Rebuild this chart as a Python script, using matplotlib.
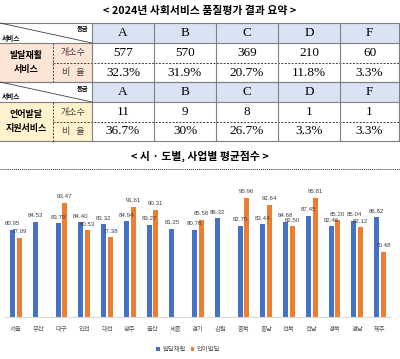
import matplotlib
matplotlib.use('Agg')
import matplotlib.pyplot as plt
from matplotlib.patches import Rectangle
import numpy as np

plt.rcParams['font.family'] = ['Noto Sans CJK KR', 'DejaVu Sans']

# table data
grades = ['A', 'B', 'C', 'D', 'F']
dev_counts = [577, 570, 369, 210, 60]
dev_ratios = ['32.3%', '31.9%', '20.7%', '11.8%', '3.3%']
lang_counts = [11, 9, 8, 1, 1]
lang_ratios = ['36.7%', '30%', '26.7%', '3.3%', '3.3%']

# chart data
regions = ['서울', '부산', '대구', '인천', '대전', '광주', '울산', '세종', '경기',
           '강원', '충북', '충남', '전북', '전남', '경북', '경남', '제주']
dev_scores = [80.95, 84.53, 83.79, 84.40, 83.32, 84.94, 83.27, 81.25, 80.76,
              86.32, 82.75, 83.44, 84.68, 87.45, 82.46, 85.04, 86.82]
lang_scores = [77.09, np.nan, 93.47, 80.53, 77.38, 91.61, 90.31, np.nan, 85.58,
               np.nan, 95.96, 92.64, 82.50, 95.81, 85.20, 82.12, 70.48]

W, H = 400, 359
fig = plt.figure(figsize=(W / 100, H / 100), dpi=100)
bg = fig.add_axes([0, 0, 1, 1])
bg.set_xlim(0, W)
bg.set_ylim(H, 0)
bg.axis('off')

line_c = '#808080'
serif = 'Liberation Serif'


def draw_table(top, label, label_bg, counts, ratios):
    rows = [top, top + 20, top + 40, top + 59]
    cols = [92, 154, 216, 278, 340, 399]
    # backgrounds
    bg.add_patch(Rectangle((92, rows[0]), 307, rows[1] - rows[0], color='#dae3f3', lw=0))
    bg.add_patch(Rectangle((0, rows[1]), 92, rows[3] - rows[1], color=label_bg, lw=0))
    # horizontal lines
    bg.plot([0, 400], [rows[0]] * 2, color=line_c, lw=0.8)
    bg.plot([0, 400], [rows[1]] * 2, color=line_c, lw=0.8)
    bg.plot([53, 400], [rows[2]] * 2, color='#404040', lw=0.7, ls=(0, (2, 1.5)))
    bg.plot([0, 400], [rows[3]] * 2, color=line_c, lw=0.8)
    # vertical lines
    for c in cols:
        bg.plot([c, c], [rows[0], rows[3]], color=line_c, lw=0.8)
    bg.plot([53, 53], [rows[1], rows[3]], color='#404040', lw=0.7, ls=(0, (2, 1.5)))
    # diagonal header cell
    bg.plot([0, 92], [rows[0], rows[1]], color='#404040', lw=0.6)
    bg.text(88, rows[0] + 6, '등급', fontsize=4.5, fontweight='bold', ha='right', va='center')
    bg.text(2, rows[1] - 5, '서비스', fontsize=4.8, fontweight='bold', ha='left', va='center')
    # row labels
    bg.text(26, (rows[1] + rows[3]) / 2, label, fontsize=6.5, fontweight='bold',
            ha='center', va='center', linespacing=1.6)
    bg.text(73, (rows[1] + rows[2]) / 2, '개소수', fontsize=6.5, color='#404040',
            ha='center', va='center')
    bg.text(73, (rows[2] + rows[3]) / 2, '비   율', fontsize=6.5, color='#404040',
            ha='center', va='center')
    for i, g in enumerate(grades):
        cx = (cols[i] + cols[i + 1]) / 2
        bg.text(cx, (rows[0] + rows[1]) / 2, g, fontsize=9.5, family=serif, ha='center', va='center')
        bg.text(cx, (rows[1] + rows[2]) / 2, str(counts[i]), fontsize=9.5, family=serif,
                ha='center', va='center')
        bg.text(cx, (rows[2] + rows[3]) / 2, ratios[i], fontsize=9.5, family=serif,
                ha='center', va='center')


bg.text(200, 11, '< 2024년 사회서비스 품질평가 결과 요약 >', fontsize=7.8, fontweight='bold',
        ha='center', va='center')
draw_table(23, '발달재활\n서비스', '#fce4d6', dev_counts, dev_ratios)
draw_table(82, '언어발달\n지원서비스', '#fff2cc', lang_counts, lang_ratios)
bg.text(200, 156, '< 시 · 도별, 사업별 평균점수 >', fontsize=7.8, fontweight='bold',
        ha='center', va='center')
bg.plot([0, 400], [169, 169], color='#303030', lw=0.7, ls=(0, (1, 1)))

# bar chart
ax = fig.add_axes([4.6 / W, 1 - 317 / H, 386.8 / W, 142 / H])
x = np.arange(len(regions))
bw = 0.22
ax.bar(x - 0.145, dev_scores, bw, color='#4472C4', label='발달재활')
ax.bar(x + 0.145, lang_scores, bw, color='#ED7D31', label='언어발달')
ax.set_xlim(-0.5, len(regions) - 0.5)
ax.set_ylim(40, 106.5)
for xi, v in zip(x, dev_scores):
    ax.annotate(f'{v:.2f}', (xi - 0.145, v), xytext=(0, 2.5), textcoords='offset points',
                ha='center', va='bottom', fontsize=4.4, color='#404040', family='Liberation Sans')
for xi, v in zip(x, lang_scores):
    if np.isnan(v):
        continue
    ax.annotate(f'{v:.2f}', (xi + 0.145, v), xytext=(0, 2.5), textcoords='offset points',
                ha='center', va='bottom', fontsize=4.4, color='#404040', family='Liberation Sans')
for s in ['top', 'left', 'right']:
    ax.spines[s].set_visible(False)
ax.spines['bottom'].set_color('#d9d9d9')
ax.spines['bottom'].set_linewidth(0.8)
ax.set_yticks([])
ax.set_xticks(x)
ax.set_xticklabels(regions, fontsize=4.6, color='#595959')
ax.tick_params(axis='x', length=0, pad=6)
ax.patch.set_alpha(0)
ax.legend(loc='center', bbox_to_anchor=(188 / W, 1 - 349 / H), bbox_transform=fig.transFigure,
          ncol=2, frameon=False, fontsize=4.6, handlelength=0.6, handleheight=0.6,
          columnspacing=0.8, handletextpad=0.3, labelcolor='#595959')

fig.savefig('out.png', dpi=100)
